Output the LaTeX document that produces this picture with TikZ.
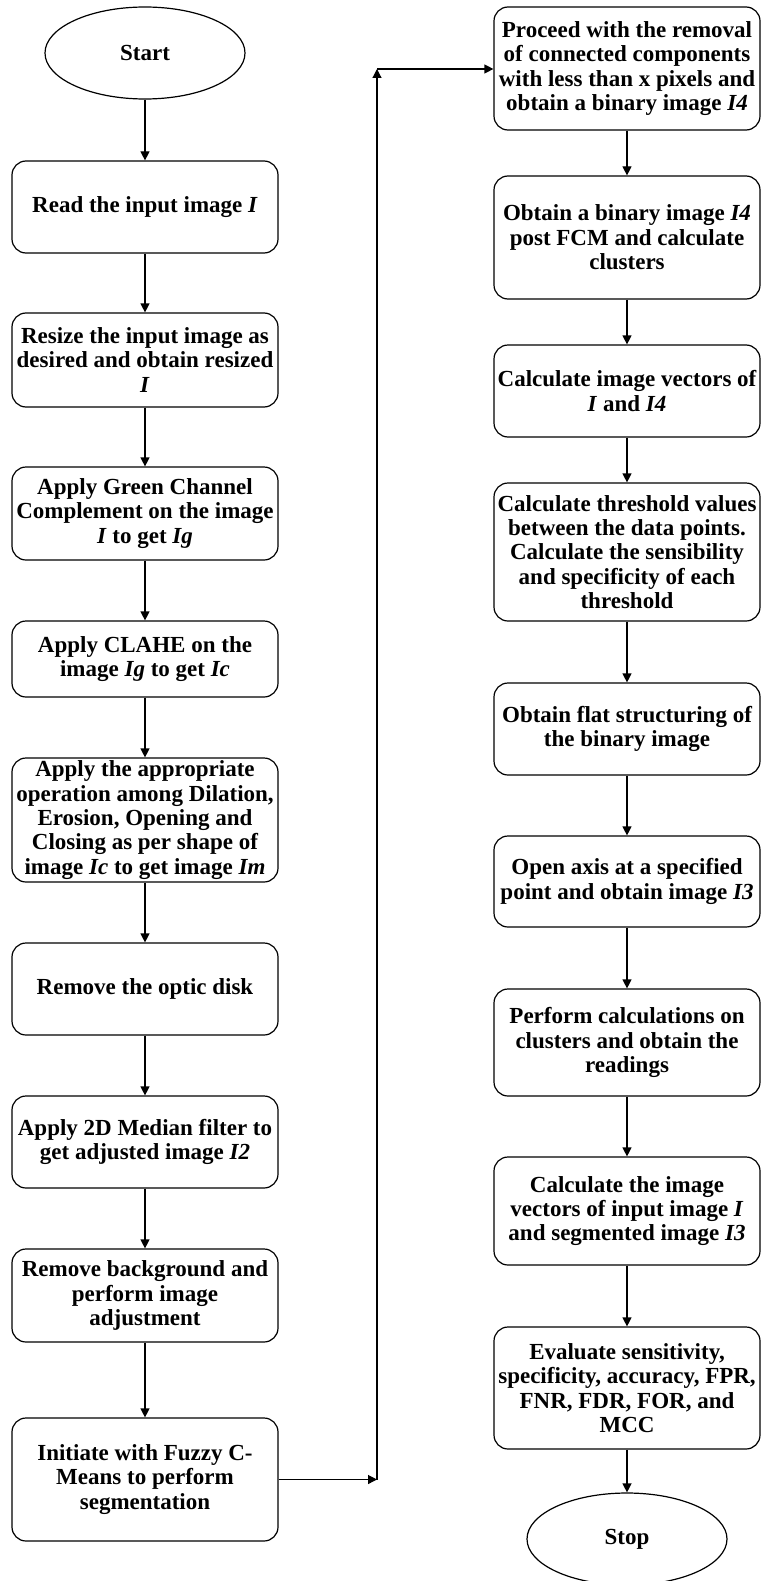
\documentclass[tikz,border=0pt]{standalone}
\usepackage{fontspec}
\setmainfont{Liberation Serif}
\usetikzlibrary{shapes.geometric,arrows.meta}
\begin{document}
\begin{tikzpicture}[x=1pt,y=-1pt,
 box/.style={draw, rounded corners=14pt, line width=1.2pt, minimum width=266pt, align=center, inner sep=0pt, font=\fontsize{23}{24.4}\selectfont\bfseries},
 term/.style={draw, ellipse, line width=1.2pt, minimum width=200pt, minimum height=92pt, inner sep=0pt, font=\fontsize{23}{24.4}\selectfont\bfseries},
 arr/.style={-{Triangle[length=9pt,width=9pt]}, line width=1.2pt}]
\useasboundingbox (0,0) rectangle (761,1581);
% left column
\node[term] (start) at (145,53) {Start};
\node[box, minimum height=92pt] (read) at (145,207) {Read the input image \textit{I}};
\node[box, minimum height=94pt] (resize) at (145,360) {Resize the input image as\\desired and obtain resized\\\textit{I}};
\node[box, minimum height=93pt] (green) at (145,513.5) {Apply Green Channel\\Complement on the image\\\textit{I} to get \textit{Ig}};
\node[box, minimum height=76pt] (clahe) at (145,659) {Apply CLAHE on the\\image \textit{Ig} to get \textit{Ic}};
\node[box, minimum height=124pt] (morph) at (145,820) {Apply the appropriate\\operation among Dilation,\\Erosion, Opening and\\Closing as per shape of\\image \textit{Ic} to get image \textit{Im}};
\node[box, minimum height=92pt] (optic) at (145,989) {Remove the optic disk};
\node[box, minimum height=92pt] (median) at (145,1142) {Apply 2D Median filter to\\get adjusted image \textit{I2}};
\node[box, minimum height=93pt] (bg) at (145,1295.5) {Remove background and\\perform image\\adjustment};
\node[box, minimum height=123pt] (fcm) at (145,1479.5) {Initiate with Fuzzy C-\\Means to perform\\segmentation};
% right column
\node[box, minimum height=123pt] (proceed) at (627,68.5) {Proceed with the removal\\of connected components\\with less than x pixels and\\obtain a binary image \textit{I4}};
\node[box, minimum height=123pt] (binary) at (627,237.5) {Obtain a binary image \textit{I4}\\post FCM and calculate\\clusters};
\node[box, minimum height=92pt] (vec) at (627,391) {Calculate image vectors of\\\textit{I} and \textit{I4}};
\node[box, minimum height=138pt] (thresh) at (627,552) {Calculate threshold values\\between the data points.\\Calculate the sensibility\\and specificity of each\\threshold};
\node[box, minimum height=92pt] (flat) at (627,729) {Obtain flat structuring of\\the binary image};
\node[box, minimum height=91pt] (axis) at (627,881.5) {Open axis at a specified\\point and obtain image \textit{I3}};
\node[box, minimum height=107pt] (perform) at (627,1042.5) {Perform calculations on\\clusters and obtain the\\readings};
\node[box, minimum height=108pt] (ivec) at (627,1211) {Calculate the image\\vectors of input image \textit{I}\\and segmented image \textit{I3}};
\node[box, minimum height=122pt] (eval) at (627,1388) {Evaluate sensitivity,\\specificity, accuracy, FPR,\\FNR, FDR, FOR, and\\MCC};
\node[term] (stop) at (627,1539) {Stop};
% connectors
\draw[arr] (start.south) -- (read.north);
\draw[arr] (read) -- (resize);
\draw[arr] (resize) -- (green);
\draw[arr] (green) -- (clahe);
\draw[arr] (clahe) -- (morph);
\draw[arr] (morph) -- (optic);
\draw[arr] (optic) -- (median);
\draw[arr] (median) -- (bg);
\draw[arr] (bg) -- (fcm);
\coordinate (top) at (377,69);
\coordinate (bot) at (fcm.east -| top);
\draw[arr] (fcm.east) -- (bot);
\draw[arr] (bot) -- (top);
\draw[arr] (top) -- (top -| proceed.west);
\draw[arr] (proceed) -- (binary);
\draw[arr] (binary) -- (vec);
\draw[arr] (vec) -- (thresh);
\draw[arr] (thresh) -- (flat);
\draw[arr] (flat) -- (axis);
\draw[arr] (axis) -- (perform);
\draw[arr] (perform) -- (ivec);
\draw[arr] (ivec) -- (eval);
\draw[arr] (eval.south) -- (stop.north);
\end{tikzpicture}
\end{document}
